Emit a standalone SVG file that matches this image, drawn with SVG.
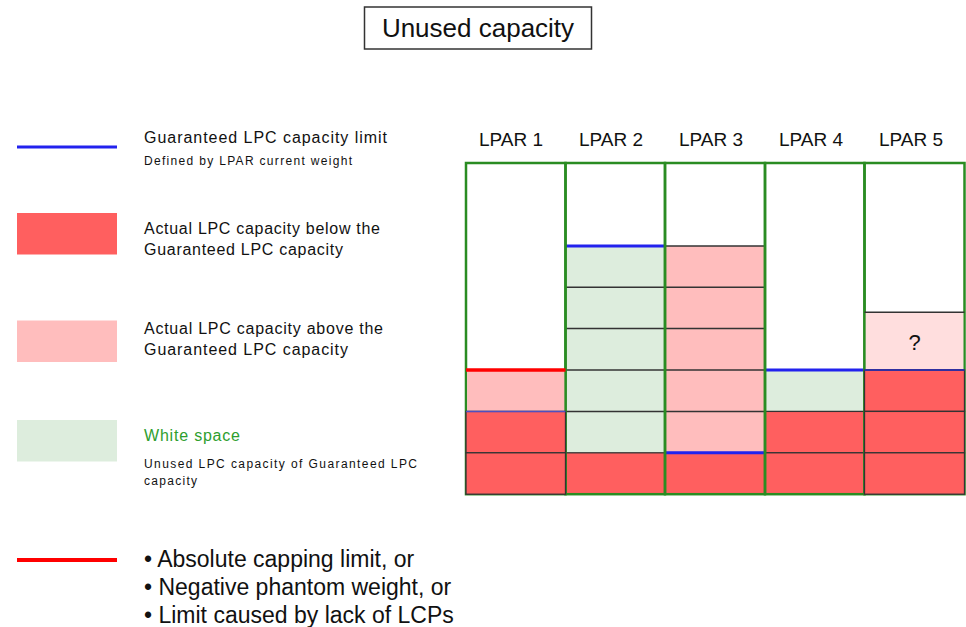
<svg xmlns="http://www.w3.org/2000/svg" width="966" height="627" viewBox="0 0 966 627">
<style>
text{font-family:"Liberation Sans",Arial,sans-serif;fill:#111}
.t16{font-size:16px}
.t12{font-size:12px}
.hdr{font-size:19px;text-anchor:middle}
.bul{font-size:23px}
.red{fill:#FF5F5F}
.pink{fill:#FFBDBD}
.lpink{fill:#FFDEDE}
.grn{fill:#DDEDDD}
.cell{stroke:#333;stroke-width:1.3}
.col{fill:none;stroke:#2A8C22;stroke-width:2.5}
.hl{stroke:#333;stroke-width:1.5}
.blue{stroke:#2222EE;stroke-width:3}
</style>
<rect width="966" height="627" fill="#fff"/>
<g id="title">
<rect x="364.5" y="7" width="227" height="42" fill="#fff" stroke="#333" stroke-width="1.5"/>
<text x="478" y="36.5" font-size="26" text-anchor="middle">Unused capacity</text>
</g>
<g id="legend-guaranteed">
<line x1="17" y1="147" x2="117" y2="147" class="blue"/>
<text x="144" y="143.3" class="t16" textLength="243" lengthAdjust="spacing">Guaranteed  LPC capacity limit</text>
<text x="144" y="164.5" class="t12" textLength="208" lengthAdjust="spacing">Defined by LPAR current weight</text>
</g>
<g id="legend-below">
<rect x="17" y="213" width="100" height="41.5" class="red"/>
<text x="144" y="233.5" class="t16" textLength="236" lengthAdjust="spacing">Actual LPC capacity below the</text>
<text x="144" y="254.5" class="t16" textLength="199" lengthAdjust="spacing">Guaranteed LPC capacity</text>
</g>
<g id="legend-above">
<rect x="17" y="320.5" width="100" height="41.5" class="pink"/>
<text x="144" y="333.5" class="t16" textLength="239" lengthAdjust="spacing">Actual LPC capacity above the</text>
<text x="144" y="355" class="t16" textLength="204" lengthAdjust="spacing">Guaranteed  LPC capacity</text>
</g>
<g id="legend-white">
<rect x="17" y="420" width="100" height="41.5" class="grn"/>
<text x="144" y="440.7" class="t16" style="fill:#2E9E2E" textLength="96" lengthAdjust="spacing">White space</text>
<text x="144" y="468.3" class="t12" textLength="273" lengthAdjust="spacing">Unused LPC capacity of Guaranteed  LPC</text>
<text x="144" y="484.5" class="t12" textLength="53" lengthAdjust="spacing">capacity</text>
</g>
<g id="legend-limit">
<line x1="17" y1="560" x2="117" y2="560" stroke="#FF0000" stroke-width="4"/>
<text x="144" y="566.7" class="bul">• Absolute capping limit, or</text>
<text x="144" y="595" class="bul">• Negative phantom weight, or</text>
<text x="144" y="623" class="bul">• Limit caused by lack of LCPs</text>
</g>
<g id="headers">
<text x="511" y="146" class="hdr">LPAR 1</text>
<text x="611" y="146" class="hdr">LPAR 2</text>
<text x="711" y="146" class="hdr">LPAR 3</text>
<text x="811" y="146" class="hdr">LPAR 4</text>
<text x="911" y="146" class="hdr">LPAR 5</text>
</g>
<g id="lpar2">
<rect x="565.5" y="246" width="99.5" height="206.8" class="grn"/>
<line x1="565.5" y1="287.2" x2="665" y2="287.2" class="hl"/>
<line x1="565.5" y1="328.6" x2="665" y2="328.6" class="hl"/>
<line x1="565.5" y1="370" x2="665" y2="370" class="hl"/>
<line x1="565.5" y1="411.4" x2="665" y2="411.4" class="hl"/>
<rect x="565.5" y="452.8" width="99.5" height="41.4" class="red cell"/>
<line x1="565.5" y1="246" x2="665" y2="246" class="blue"/>
</g>
<g id="lpar3">
<rect x="665" y="246" width="100" height="206.8" class="pink"/>
<line x1="665" y1="246" x2="765" y2="246" class="hl"/>
<line x1="665" y1="287.2" x2="765" y2="287.2" class="hl"/>
<line x1="665" y1="328.6" x2="765" y2="328.6" class="hl"/>
<line x1="665" y1="370" x2="765" y2="370" class="hl"/>
<line x1="665" y1="411.4" x2="765" y2="411.4" class="hl"/>
<rect x="665" y="452.8" width="100" height="41.4" class="red"/>
<line x1="665" y1="452.8" x2="765" y2="452.8" class="blue"/>
</g>
<g id="lpar4">
<rect x="765" y="370" width="99.5" height="41.4" class="grn"/>
<rect x="765" y="411.4" width="99.5" height="41.4" class="red cell"/>
<rect x="765" y="452.8" width="99.5" height="41.4" class="red cell"/>
<line x1="765" y1="370" x2="864.5" y2="370" class="blue"/>
</g>
<g id="frame">
<rect x="466" y="163" width="99.5" height="331.2" class="col"/>
<rect x="565.5" y="163" width="99.5" height="331.2" class="col"/>
<rect x="665" y="163" width="100" height="331.2" class="col"/>
<rect x="765" y="163" width="99.5" height="331.2" class="col"/>
<rect x="864.5" y="163" width="100" height="331.2" class="col"/>
</g>
<g id="lpar1">
<rect x="467.2" y="371" width="97.1" height="40.4" class="pink"/>
<rect x="466" y="411.4" width="99.5" height="41.4" class="red cell"/>
<rect x="466" y="452.8" width="99.5" height="41.4" class="red cell"/>
<line x1="466" y1="411.6" x2="565.5" y2="411.6" stroke="#5050C0" stroke-width="1.5"/>
<line x1="466" y1="370" x2="565.5" y2="370" stroke="#FF0000" stroke-width="3.5"/>
</g>
<g id="lpar5">
<rect x="865.7" y="312.3" width="97.6" height="57.7" class="lpink"/>
<line x1="864.5" y1="312.3" x2="964.5" y2="312.3" class="hl"/>
<text x="914.5" y="350" font-size="22" text-anchor="middle">?</text>
<rect x="864.5" y="370" width="100" height="41.4" class="red cell"/>
<rect x="864.5" y="411.4" width="100" height="41.4" class="red cell"/>
<rect x="864.5" y="452.8" width="100" height="41.4" class="red cell"/>
<line x1="864.5" y1="370" x2="964.5" y2="370" stroke="#3030A0" stroke-width="2"/>
</g>
</svg>
